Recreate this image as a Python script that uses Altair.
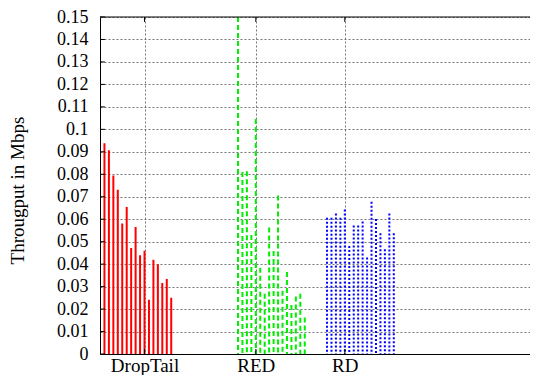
import altair as alt
import pandas as pd

# ---- data ----
droptail_x = list(range(1, 17))
droptail_v = [0.0938, 0.0907, 0.0794, 0.0731, 0.0581, 0.0654, 0.0472, 0.0565,
              0.0440, 0.0460, 0.0241, 0.0419, 0.0399, 0.0316, 0.0334, 0.0250]
red_x = list(range(31, 47))
red_v = [0.1500, 0.0810, 0.0813, 0.0530, 0.1046, 0.0384, 0.0268, 0.0563,
         0.0459, 0.0706, 0.0282, 0.0365, 0.0218, 0.0256, 0.0268, 0.0162]
rd_x = list(range(51, 67))
rd_v = [0.0607, 0.0607, 0.0625, 0.0607, 0.0643, 0.0481, 0.0572, 0.0572,
        0.0590, 0.0429, 0.0678, 0.0601, 0.0537, 0.0466, 0.0625, 0.0537]

categories = ["DropTail", "RED", "RD"]
category_pos = [10, 35, 55]
y_ticks = [0, 0.01, 0.02, 0.03, 0.04, 0.05, 0.06, 0.07, 0.08, 0.09,
           0.10, 0.11, 0.12, 0.13, 0.14, 0.15]

rows = []
for name, xs, vs in [("DropTail", droptail_x, droptail_v),
                     ("RED", red_x, red_v),
                     ("RD", rd_x, rd_v)]:
    for x, v in zip(xs, vs):
        rows.append({"x": x, "v": v, "series": name})
df = pd.DataFrame(rows)

label_expr = " : ".join(
    f"datum.value == {p} ? '{c}'" for p, c in zip(category_pos, categories)
) + " : ''"

FONT = "Liberation Serif"
FS = 19
YFS = 18

xscale = alt.Scale(domain=[0, 96.6], nice=False, zero=False)
yscale = alt.Scale(domain=[0, 0.15], nice=False)

xaxis = alt.Axis(values=category_pos, labelExpr=label_expr,
                 title=None, tickSize=0, labelPadding=17,
                 labelBaseline="alphabetic",
                 labelFont=FONT, labelFontSize=FS, labelColor="black",
                 labelOverlap=False, labelFlush=False,
                 domainColor="black", domainWidth=1,
                 grid=True, gridColor="#777777", gridDash=[2, 2],
                 gridWidth=1, labelAngle=0)
yaxis = alt.Axis(values=y_ticks, format="~g",
                 title="Througput in Mbps", titleFont=FONT,
                 titleFontSize=FS, titleFontWeight="normal",
                 titleColor="black", titleX=-77, titleY=173,
                 titleAngle=270, titleAlign="center",
                 titleBaseline="alphabetic",
                 tickSize=0, labelPadding=12, labelFont=FONT,
                 labelFontSize=YFS, labelColor="black",
                 labelOverlap=False, labelFlush=False,
                 domainColor="black", domainWidth=1,
                 grid=True, gridColor="#777777", gridDash=[2, 2],
                 gridWidth=1)

bars = alt.Chart(df).mark_rule(strokeWidth=2, clip=True).encode(
    x=alt.X("x:Q", scale=xscale, axis=xaxis),
    y=alt.Y("v:Q", scale=yscale, axis=yaxis),
    y2=alt.datum(0),
    color=alt.Color("series:N",
                    scale=alt.Scale(domain=categories,
                                    range=["#ff0000", "#00ee00", "#0000ff"]),
                    legend=None),
    strokeDash=alt.StrokeDash("series:N",
                              scale=alt.Scale(domain=categories,
                                              range=[[1, 0], [5, 3], [2, 2]]),
                              legend=None),
)

top_border = alt.Chart(pd.DataFrame({"v": [0.15]})).mark_rule(
    color="black", strokeWidth=1).encode(
    y=alt.Y("v:Q", scale=yscale, axis=yaxis))

ytick_df = pd.DataFrame({"v": y_ticks})
left_ticks = alt.Chart(ytick_df).mark_rule(color="black", strokeWidth=1).encode(
    y=alt.Y("v:Q", scale=yscale, axis=yaxis),
    x=alt.XDatum(0, type="quantitative", scale=xscale, axis=xaxis),
    x2=alt.datum(1.1))

xtick_df = pd.DataFrame({"x": category_pos})
bottom_ticks = alt.Chart(xtick_df).mark_rule(color="black", strokeWidth=1).encode(
    x=alt.X("x:Q", scale=xscale, axis=xaxis),
    y=alt.YDatum(0, type="quantitative", scale=yscale, axis=yaxis),
    y2=alt.datum(0.0022))
top_ticks = alt.Chart(xtick_df).mark_rule(color="black", strokeWidth=1).encode(
    x=alt.X("x:Q", scale=xscale, axis=xaxis),
    y=alt.YDatum(0.15, type="quantitative", scale=yscale, axis=yaxis),
    y2=alt.datum(0.1478))

chart = alt.layer(bars, top_border, left_ticks, bottom_ticks, top_ticks).properties(
    width=430, height=337,
    autosize=alt.AutoSizeParams(type="none"),
    padding={"left": 92, "top": 9, "right": 0, "bottom": 21},
    background="white",
).configure(font=FONT).configure_axis(
    labelFont=FONT, titleFont=FONT
).configure_view(stroke=None)

chart.save("out.html", embed_options={"renderer": "svg", "actions": False})
